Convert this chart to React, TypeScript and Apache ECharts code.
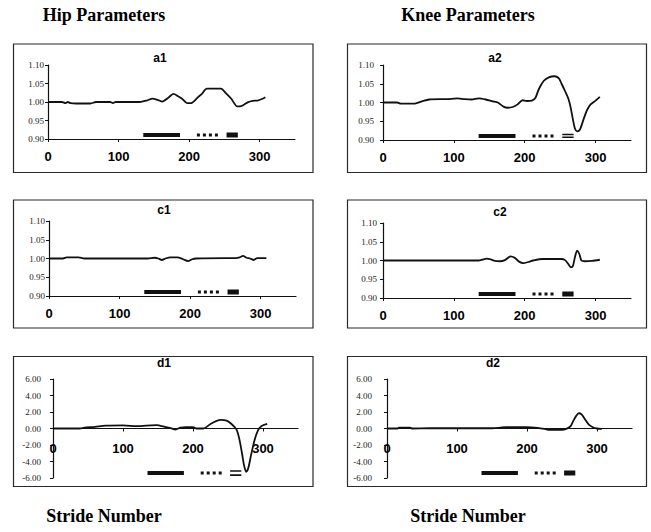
import React, { useEffect, useRef } from "react";
import * as echarts from "echarts";

// Normalised gait parameters against stride number, [stride, value] pairs
const hipA: number[][] = [
  [0, 1.0], [20, 1.0], [25, 0.997], [28, 1.0], [32, 0.997], [40, 0.996], [60, 0.996], [68, 1.0],
  [88, 1.0], [92, 0.997], [96, 1.0], [130, 1.0], [140, 1.004], [148, 1.009], [155, 1.006],
  [162, 1.001], [170, 1.011], [178, 1.022], [184, 1.016], [190, 1.009], [197, 0.997], [203, 0.997],
  [213, 1.014], [218, 1.022], [225, 1.036], [245, 1.036], [252, 1.024], [260, 1.008], [268, 0.988],
  [272, 0.988], [277, 0.992], [283, 0.999], [290, 1.003], [297, 1.004], [303, 1.008], [308, 1.013],
];
const kneeA: number[][] = [
  [0, 1.0], [20, 1.0], [25, 0.997], [45, 0.997], [55, 1.003], [65, 1.008], [90, 1.009], [105, 1.011],
  [115, 1.009], [125, 1.008], [135, 1.011], [145, 1.008], [155, 1.003], [162, 1.0], [170, 0.989],
  [176, 0.986], [183, 0.988], [190, 0.995], [197, 1.006], [203, 1.004], [210, 1.005], [215, 1.012],
  [220, 1.036], [227, 1.058], [234, 1.067], [242, 1.07], [248, 1.065], [252, 1.05], [257, 1.03],
  [262, 1.008], [265, 0.985], [268, 0.955], [271, 0.93], [274, 0.923], [278, 0.928], [283, 0.955],
  [288, 0.98], [293, 0.995], [300, 1.005], [306, 1.015],
];
const hipC: number[][] = [
  [0, 1.0], [20, 1.0], [25, 1.003], [42, 1.003], [50, 1.0], [140, 1.0], [150, 1.002], [155, 1.0],
  [160, 0.996], [165, 1.0], [172, 1.003], [182, 1.003], [190, 0.998], [197, 0.993], [203, 0.998],
  [208, 1.0], [250, 1.001], [265, 1.001], [270, 1.003], [275, 1.007], [280, 1.002], [285, 1.0],
  [290, 0.996], [295, 1.001], [308, 1.001],
];
const kneeC: number[][] = [
  [0, 1.0], [135, 1.0], [140, 1.002], [146, 1.005], [152, 1.003], [158, 0.999], [165, 0.998],
  [172, 1.001], [180, 1.011], [186, 1.007], [192, 0.997], [198, 0.993], [205, 0.996], [212, 1.0],
  [225, 1.004], [240, 1.004], [252, 1.004], [257, 1.001], [261, 0.992], [265, 0.982], [268, 0.985],
  [271, 1.01], [274, 1.026], [277, 1.018], [280, 1.0], [285, 0.998], [295, 0.999], [306, 1.002],
];
const hipD: number[][] = [
  [0, 0], [38, 0], [45, 0.1], [60, 0.2], [75, 0.35], [100, 0.38], [120, 0.28], [140, 0.38],
  [148, 0.4], [160, 0.2], [168, 0.05], [175, -0.12], [182, 0.1], [190, 0.15], [200, 0.15], [205, 0],
  [215, 0], [225, 0.55], [233, 0.9], [240, 1.05], [248, 0.95], [255, 0.55], [262, -0.1], [266, -1.2],
  [270, -3.0], [273, -4.5], [276, -5.25], [279, -4.8], [283, -3.2], [288, -1.4], [293, -0.2],
  [298, 0.3], [306, 0.55],
];
const kneeD: number[][] = [
  [0, 0], [15, 0], [17, 0.1], [33, 0.1], [36, 0], [60, 0.03], [100, 0.03], [150, 0.03], [162, 0.1],
  [170, 0.16], [200, 0.16], [215, 0.08], [225, -0.05], [230, -0.15], [250, -0.15], [256, -0.05],
  [262, 0.25], [266, 0.9], [270, 1.5], [274, 1.85], [278, 1.7], [283, 1.1], [288, 0.5], [294, 0.15],
  [300, 0], [307, -0.05],
];

// Phase spans (stride numbers) marked along the bottom of each panel
const phaseSolid = [135, 187];
const phaseDotted = [211, 241];
const phaseThird = [253, 269];

const ratioTicks = [0.9, 0.95, 1.0, 1.05, 1.1];
const diffTicks = [-6, -4, -2, 0, 2, 4, 6];
const strideTicks = [0, 100, 200, 300];

type Panel = {
  name: string;
  data: number[][];
  kind: "ratio" | "diff";
  third: "block" | "double";
  grid: { left: number; top: number; width: number; height: number };
  box: { x: number; y: number; w: number; h: number };
  title: { x: number; y: number };
  yMargin: number;
};

const panels: Panel[] = [
  { name: "a1", data: hipA, kind: "ratio", third: "block", grid: { left: 48, top: 65, width: 247, height: 74 }, box: { x: 13.5, y: 44, w: 299.5, h: 128.5 }, title: { x: 160, y: 58 }, yMargin: 4 },
  { name: "a2", data: kneeA, kind: "ratio", third: "double", grid: { left: 383, top: 65, width: 248, height: 75 }, box: { x: 347.5, y: 44, w: 299, h: 128.5 }, title: { x: 495, y: 58 }, yMargin: 9 },
  { name: "c1", data: hipC, kind: "ratio", third: "block", grid: { left: 49, top: 221, width: 247, height: 75 }, box: { x: 13.5, y: 200, w: 299.5, h: 128 }, title: { x: 164, y: 210 }, yMargin: 4 },
  { name: "c2", data: kneeC, kind: "ratio", third: "block", grid: { left: 383, top: 223, width: 248, height: 75 }, box: { x: 347.5, y: 200, w: 299, h: 128 }, title: { x: 500, y: 212 }, yMargin: 6 },
  { name: "d1", data: hipD, kind: "diff", third: "double", grid: { left: 53, top: 379, width: 245, height: 99 }, box: { x: 13.5, y: 356.5, w: 299.5, h: 130 }, title: { x: 164, y: 363 }, yMargin: 12 },
  { name: "d2", data: kneeD, kind: "diff", third: "block", grid: { left: 387, top: 379, width: 245, height: 99 }, box: { x: 347.5, y: 356.5, w: 299, h: 130 }, title: { x: 493, y: 363 }, yMargin: 15 },
];

const INK = "#111";

function buildOption() {
  const grid = panels.map((p) => ({ ...p.grid }));

  // Difference panels carry their stride axis across the middle (value 0),
  // so it is lifted by half the grid height.
  const xAxis = panels.map((p, i) => ({
    type: "value",
    gridIndex: i,
    min: 0,
    max: 350,
    interval: 100,
    offset: p.kind === "diff" ? -p.grid.height / 2 : 0,
    axisLine: { onZero: false, lineStyle: { color: INK, width: 1.2 } },
    axisTick: { show: true, length: 3, customValues: strideTicks, lineStyle: { color: INK } },
    axisLabel: {
      customValues: strideTicks,
      color: "#000",
      fontSize: 13,
      fontWeight: "bold",
      fontFamily: "Liberation Sans, Arial, sans-serif",
      margin: p.kind === "diff" ? 13 : 11,
    },
    splitLine: { show: false },
  }));

  const yAxis = panels.map((p, i) => {
    const ratio = p.kind === "ratio";
    return {
      type: "value",
      gridIndex: i,
      min: ratio ? 0.9 : -6,
      max: ratio ? 1.1 : 6,
      interval: ratio ? 0.05 : 2,
      axisLine: { show: true, onZero: false, lineStyle: { color: INK, width: 1.2 } },
      axisTick: { show: true, length: 3, customValues: ratio ? ratioTicks : diffTicks, lineStyle: { color: INK } },
      axisLabel: {
        customValues: ratio ? ratioTicks : diffTicks,
        color: "#222",
        fontSize: 9,
        fontFamily: "Liberation Serif, Times New Roman, serif",
        margin: p.yMargin,
        formatter: (v: number) => v.toFixed(2),
      },
      splitLine: { show: false },
    };
  });

  const series: any[] = [];
  panels.forEach((p, i) => {
    const ratio = p.kind === "ratio";
    const base = ratio ? 0.911 : -5.4;
    const off = ratio ? 0.0035 : 0.25;
    const common = { xAxisIndex: i, yAxisIndex: i, showSymbol: false, symbol: "none", silent: true };

    series.push({
      ...common,
      type: "line",
      name: p.name,
      data: p.data,
      smooth: 0.25,
      lineStyle: { color: INK, width: 1.8 },
      z: 3,
    });
    series.push({
      ...common,
      type: "line",
      data: [[phaseSolid[0], base], [phaseSolid[1], base]],
      lineStyle: { color: INK, width: 4, cap: "butt" },
    });
    series.push({
      ...common,
      type: "line",
      data: [[phaseDotted[0], base], [phaseDotted[1], base]],
      lineStyle: { color: INK, width: 3, type: [3, 3], cap: "butt" },
    });
    if (p.third === "block") {
      series.push({
        ...common,
        type: "line",
        data: [[phaseThird[0], base], [phaseThird[1], base]],
        lineStyle: { color: INK, width: 5, cap: "butt" },
      });
    } else {
      [base + off, base - off].forEach((y) =>
        series.push({
          ...common,
          type: "line",
          data: [[phaseThird[0], y], [phaseThird[1], y]],
          lineStyle: { color: INK, width: 1.6, cap: "butt" },
        })
      );
    }
  });

  const graphic: any[] = [];
  panels.forEach((p) => {
    graphic.push({
      type: "rect",
      shape: { x: p.box.x, y: p.box.y, width: p.box.w, height: p.box.h },
      style: { fill: "none", stroke: "#2a2a2a", lineWidth: 1.2 },
      silent: true,
    });
    graphic.push({
      type: "text",
      x: p.title.x,
      y: p.title.y,
      style: {
        text: p.name,
        fill: "#000",
        font: "bold 12px 'Liberation Sans', Arial, sans-serif",
        align: "center",
        verticalAlign: "middle",
      },
    });
  });
  const headerFont = "bold 18px 'Liberation Serif', 'Times New Roman', serif";
  [
    { text: "Hip Parameters", x: 104, y: 15 },
    { text: "Knee Parameters", x: 468, y: 15 },
    { text: "Stride Number", x: 104, y: 516 },
    { text: "Stride Number", x: 468, y: 516 },
  ].forEach((h) =>
    graphic.push({
      type: "text",
      x: h.x,
      y: h.y,
      style: { text: h.text, fill: "#000", font: headerFont, align: "center", verticalAlign: "middle" },
    })
  );

  return {
    animation: false,
    backgroundColor: "#fff",
    grid,
    xAxis,
    yAxis,
    series,
    graphic,
  };
}

export default function App() {
  const ref = useRef<HTMLDivElement>(null);
  useEffect(() => {
    if (!ref.current) return;
    const chart = echarts.init(ref.current, undefined, { renderer: "svg" });
    chart.setOption(buildOption() as any);
    return () => chart.dispose();
  }, []);
  return (
    <div
      ref={ref}
      style={{ position: "fixed", left: 0, top: 0, width: 651, height: 532, background: "#fff" }}
    />
  );
}
